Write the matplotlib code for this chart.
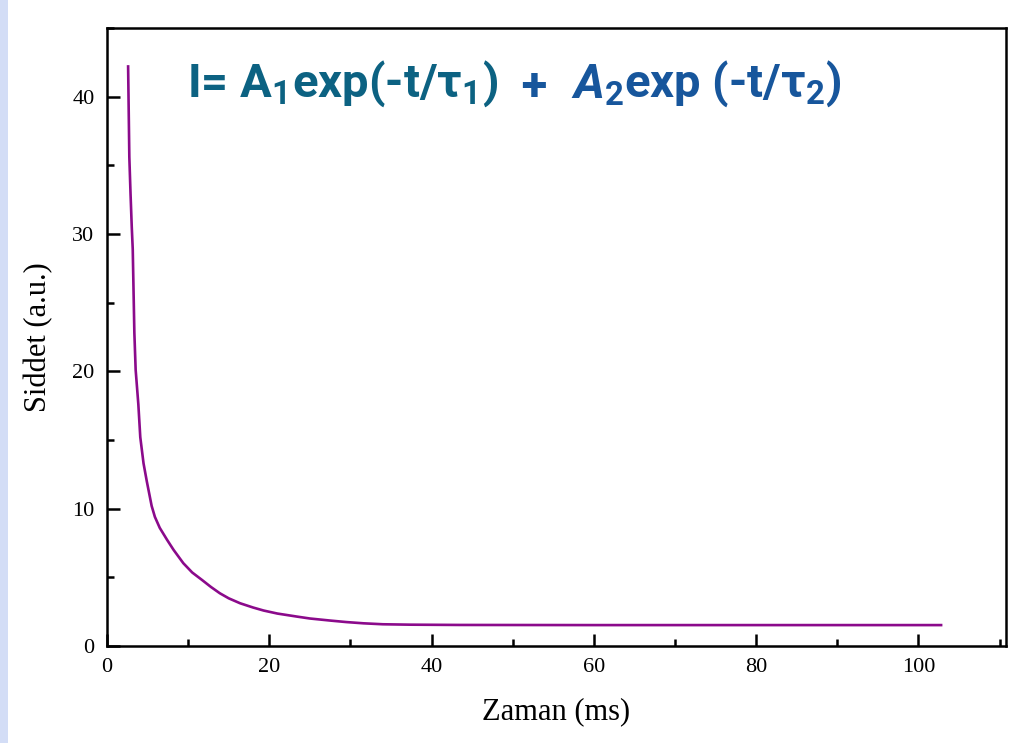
import matplotlib.pyplot as plt
from matplotlib.patches import Rectangle
from matplotlib.ticker import MultipleLocator

# decay curve
time_ms = [2.6, 2.75, 2.9, 3.05, 3.17, 3.37, 3.53, 3.86, 4.1, 4.5, 4.9, 5.5, 5.9, 6.5,
           7.4, 8.2, 9.4, 10.5, 11.7, 12.8, 13.9, 15.0, 16.4, 18.0, 19.3, 21.0, 23.4,
           25.0, 27.5, 29.5, 31.6, 34.0, 37.4, 43.5, 60, 80, 102.8]
intensity = [42.2, 35.6, 32.9, 30.5, 28.9, 22.8, 20.1, 17.6, 15.2, 13.3, 12.0, 10.2, 9.4, 8.6,
             7.73, 7.0, 6.03, 5.35, 4.81, 4.3, 3.84, 3.47, 3.11, 2.8, 2.58, 2.36, 2.14,
             2.0, 1.85, 1.74, 1.65, 1.58, 1.55, 1.53, 1.52, 1.52, 1.52]

x_ticks = [0, 20, 40, 60, 80, 100]
y_ticks = [0, 10, 20, 30, 40]

serif = ['Liberation Serif', 'DejaVu Serif']

plt.rcParams['mathtext.fontset'] = 'custom'
plt.rcParams['mathtext.rm'] = 'Roboto:bold'
plt.rcParams['mathtext.bf'] = 'Roboto:bold'
plt.rcParams['mathtext.it'] = 'Roboto:bold:italic'
plt.rcParams['mathtext.default'] = 'bf'

fig = plt.figure(figsize=(10.32, 7.43), dpi=100)
# pale slide strip on the left edge
fig.patches.append(Rectangle((0, 0), 8 / 1032, 1, transform=fig.transFigure,
                             facecolor='#d3ddf6', edgecolor='none'))

ax = fig.add_axes([0.1037, 0.1306, 0.8711, 0.8317])
ax.plot(time_ms, intensity, color='#8b0a8b', lw=1.9)

ax.set_xlim(0, 110.8)
ax.set_ylim(0, 45)
ax.set_xticks(x_ticks)
ax.set_yticks(y_ticks)
ax.xaxis.set_minor_locator(MultipleLocator(10))
ax.yaxis.set_minor_locator(MultipleLocator(5))
ax.tick_params(which='both', direction='in', width=1.8, top=False, right=False)
ax.tick_params(which='major', length=9, pad=9, labelsize=16)
ax.tick_params(which='minor', length=5)
for lab in ax.get_xticklabels() + ax.get_yticklabels():
    lab.set_family(serif)
for sp in ax.spines.values():
    sp.set_linewidth(1.8)

ax.set_xlabel('Zaman (ms)', family=serif, fontsize=22, labelpad=14)
ax.set_ylabel('Siddet (a.u.)', family=serif, fontsize=22, labelpad=14)

# formula, built from pieces so A2 can be italic
eq_font = dict(fontsize=34, fontweight='bold', family='Roboto')
t1 = ax.text(0.089, 0.889, 'I= A$_1$exp(-t/\u03c4$_1$)', transform=ax.transAxes,
             color='#0c6282', va='baseline', **eq_font)
t2 = ax.annotate('  +  ', xy=(1, 0), xycoords=t1, va='bottom', color='#17569c', **eq_font)
t3 = ax.annotate('A$_2$', xy=(1, 0), xycoords=t2, va='bottom', color='#17569c',
                 style='italic', **eq_font)
ax.annotate('exp (-t/\u03c4$_2$)', xy=(1, 0), xycoords=t3, va='bottom', color='#17569c', **eq_font)

fig.savefig('out.png', dpi=100)
